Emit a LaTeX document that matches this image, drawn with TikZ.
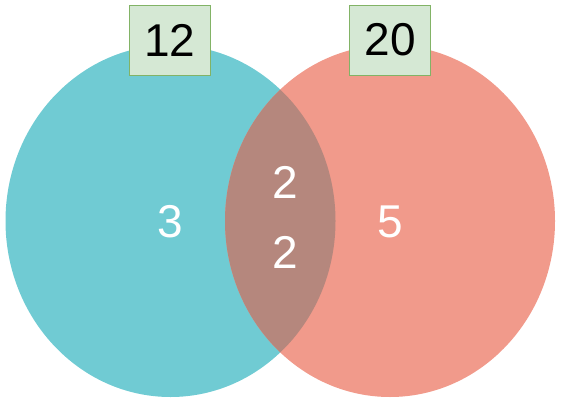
\documentclass[tikz,border=0pt]{standalone}
\usepackage{fontspec}
\setmainfont{Liberation Sans}
\usetikzlibrary{positioning}
\definecolor{setA}{HTML}{70CBD3}
\definecolor{setB}{HTML}{F19A8B}
\definecolor{setAB}{HTML}{B5877D}
\definecolor{tagfill}{HTML}{D5E8D4}
\definecolor{tagline}{HTML}{82B366}

\begin{document}
\begin{tikzpicture}[x=1pt, y=-1pt]
\tikzset{
  num/.style={text=white, font=\fontsize{46}{46}\selectfont, inner sep=0pt},
  tag/.style={draw=tagline, fill=tagfill, line width=0.8pt, minimum width=81pt, minimum height=70pt, inner sep=0pt, font=\fontsize{46}{46}\selectfont}
}
\useasboundingbox (0,0) rectangle (561,403);

% the two sets
\fill[setA] (170.5,221) ellipse [x radius=165, y radius=176];
\fill[setB] (390,221) ellipse [x radius=165, y radius=176];
\begin{scope}
  \clip (170.5,221) ellipse [x radius=165, y radius=176];
  \fill[setAB] (390,221) ellipse [x radius=165, y radius=176];
\end{scope}

% counts
\node[num] (onlyA) at (170,222) {3};
\node[num] (onlyB) at (390,222) {5};
\node[num] (bothtop) at (285,182) {2};
\node[num] (bothbot) at (285,252) {2};

% totals
\node[tag] (totA) at (170,40) {12};
\node[tag] (totB) at (390,40) {20};

\end{tikzpicture}
\end{document}
